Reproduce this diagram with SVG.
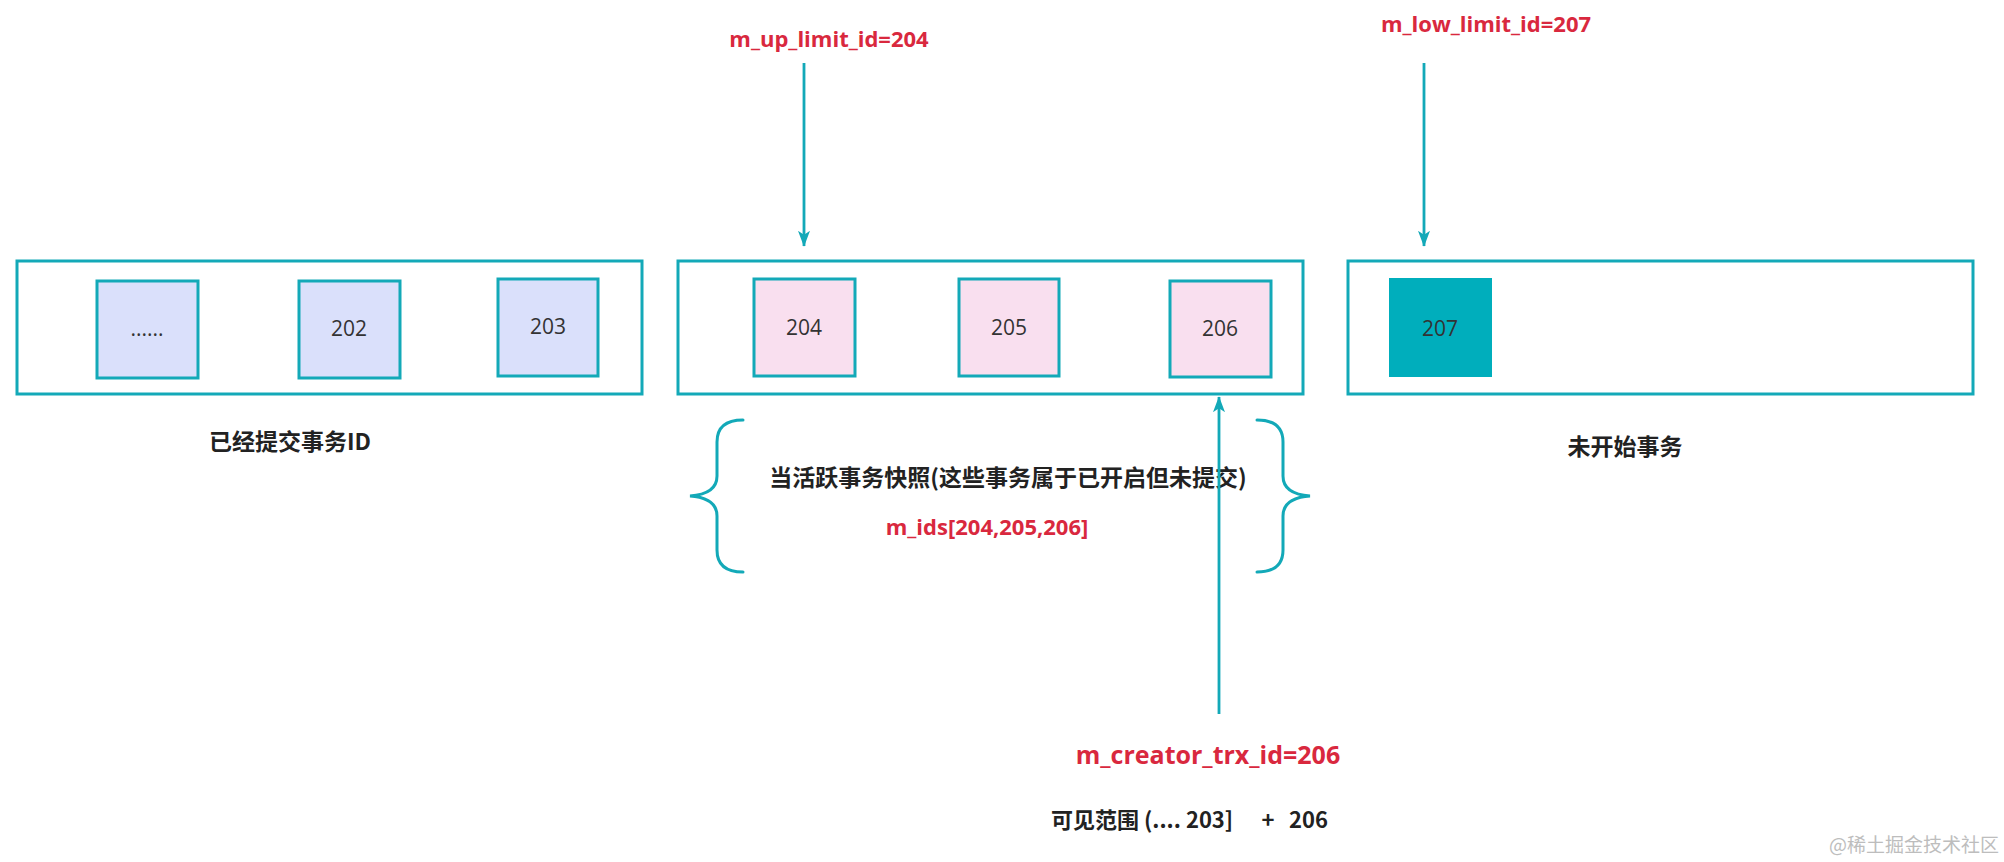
<svg xmlns="http://www.w3.org/2000/svg" width="2004" height="862" viewBox="0 0 2004 862">
<style>
.frame{fill:#ffffff;stroke:#13A9B8;stroke-width:3}
.blue{fill:#DAE0FB;stroke:#13A9B8;stroke-width:3}
.pink{fill:#F9DFEF;stroke:#13A9B8;stroke-width:3}
.solid{fill:#00AEBC;stroke:none}
.num{font-family:"Open Sans","Liberation Sans","Noto Sans CJK SC",sans-serif;font-size:21px;fill:#333333;text-anchor:middle}
.lbl{font-family:"Noto Sans CJK SC","Open Sans",sans-serif;font-weight:bold;fill:#222222}
.red{font-family:"Open Sans","Liberation Sans",sans-serif;font-weight:bold;fill:#D9283E}
.conn{fill:none;stroke:#13A9B8;stroke-width:2.8}
.brace{fill:none;stroke:#13A9B8;stroke-width:3;stroke-linecap:round}
</style>
<defs>
<marker id="ah" markerUnits="userSpaceOnUse" markerWidth="16" markerHeight="20" refX="19" refY="7.5" orient="auto" viewBox="0 0 20 15">
<path d="M0,0 L20,7.5 L0,15 L5,7.5 Z" fill="#13A9B8"/>
</marker>
</defs>
<rect width="2004" height="862" fill="#ffffff"/>

<g id="committed">
<rect class="frame" x="17" y="261" width="625" height="133"/>
<text class="lbl" x="290" y="450" font-size="23" text-anchor="middle">已经提交事务ID</text>
</g>
<g id="n-dots"><rect class="blue" x="97" y="281" width="101" height="97"/><text class="num" x="147" y="336">......</text></g>
<g id="n-202"><rect class="blue" x="299" y="281" width="101" height="97"/><text class="num" x="349" y="336">202</text></g>
<g id="n-203"><rect class="blue" x="498" y="279" width="100" height="97"/><text class="num" x="548" y="334">203</text></g>

<g id="active">
<rect class="frame" x="678" y="261" width="625" height="133"/>
</g>
<g id="n-204"><rect class="pink" x="754" y="279" width="101" height="97"/><text class="num" x="804" y="335">204</text></g>
<g id="n-205"><rect class="pink" x="959" y="279" width="100" height="97"/><text class="num" x="1009" y="335">205</text></g>
<g id="n-206"><rect class="pink" x="1170" y="281" width="101" height="96"/><text class="num" x="1220" y="336">206</text></g>

<g id="notstarted">
<rect class="frame" x="1348" y="261" width="625" height="133"/>
<text class="lbl" x="1625" y="455" font-size="23" text-anchor="middle">未开始事务</text>
</g>
<g id="n-207"><rect class="solid" x="1389" y="278" width="103" height="99"/><text class="num" x="1440" y="336">207</text></g>

<g id="snapshot">
<path class="brace" d="M743,420 Q717,420 717,442 L717,476 Q717,494 690,496 Q717,498 717,516 L717,550 Q717,572 743,572"/>
<path class="brace" d="M1257,420 Q1283,420 1283,442 L1283,476 Q1283,494 1310,496 Q1283,498 1283,516 L1283,550 Q1283,572 1257,572"/>
<text class="lbl" x="1008" y="486" font-size="23" text-anchor="middle">当活跃事务快照(这些事务属于已开启但未提交)</text>
<text class="red" x="987" y="535" font-size="22" text-anchor="middle">m_ids[204,205,206]</text>
</g>

<g id="labels">
<text class="red" x="829" y="47" font-size="22" text-anchor="middle">m_up_limit_id=204</text>
<text class="red" x="1486" y="32" font-size="22" text-anchor="middle">m_low_limit_id=207</text>
<text class="red" x="1208" y="764" font-size="25" text-anchor="middle">m_creator_trx_id=206</text>
<text class="lbl" y="828" font-size="22"><tspan x="1051">可见范围 (.... 203]</tspan><tspan x="1268" text-anchor="middle">+</tspan><tspan x="1289">206</tspan></text>
<text x="1999" y="852" font-family="Noto Sans CJK SC,sans-serif" font-size="19" fill="#BDBDBD" text-anchor="end">@稀土掘金技术社区</text>
</g>

<g id="connectors">
<line class="conn" x1="804" y1="63" x2="804" y2="246" marker-end="url(#ah)"/>
<line class="conn" x1="1424" y1="63" x2="1424" y2="246" marker-end="url(#ah)"/>
<line class="conn" x1="1219" y1="714" x2="1219" y2="397" marker-end="url(#ah)"/>
</g>
</svg>
